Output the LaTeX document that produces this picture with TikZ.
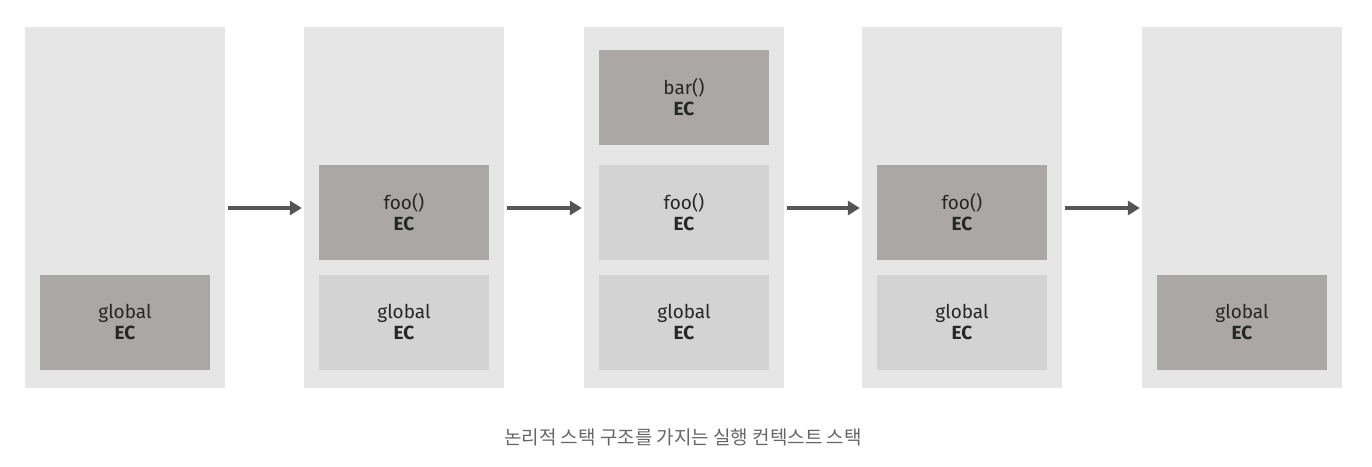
\documentclass[tikz,border=0pt]{standalone}
\usepackage{fontspec}
\setmainfont{Fira Sans}
\newfontfamily\cjk{Noto Sans CJK KR}
\definecolor{bgc}{HTML}{E6E6E6}
\definecolor{dk}{HTML}{ABA7A7}
\definecolor{lt}{HTML}{D3D3D3}
\definecolor{arr}{HTML}{555555}
\usetikzlibrary{arrows.meta}
\begin{document}
\begin{tikzpicture}[x=1pt,y=-1pt,
  col/.style={fill=bgc,draw=none,minimum width=200pt,minimum height=361pt,inner sep=0},
  ec/.style={draw=none,minimum width=170pt,minimum height=95pt,inner sep=0,align=center,font=\fontsize{19}{21}\selectfont,text=black!85},
  dkbox/.style={ec,fill=dk}, ltbox/.style={ec,fill=lt},
  flow/.style={draw=arr,line width=3.5pt,-{Triangle[length=12pt,width=14pt]}}]
\useasboundingbox (0,0) rectangle (1372,466);
\foreach \i/\x in {1/125,2/404,3/684,4/962,5/1242}{
  \node[col] (c\i) at (\x,207.5) {};
}
\node[dkbox] (g1) at (125,322.5) {global\\\textbf{EC}};
\node[ltbox] (g2) at (404,322.5) {global\\\textbf{EC}};
\node[dkbox] (f2) at (404,212.5) {foo()\\\textbf{EC}};
\node[ltbox] (g3) at (684,322.5) {global\\\textbf{EC}};
\node[ltbox] (f3) at (684,212.5) {foo()\\\textbf{EC}};
\node[dkbox] (b3) at (684,97.5) {bar()\\\textbf{EC}};
\node[ltbox] (g4) at (962,322.5) {global\\\textbf{EC}};
\node[dkbox] (f4) at (962,212.5) {foo()\\\textbf{EC}};
\node[dkbox] (g5) at (1242,322.5) {global\\\textbf{EC}};
\foreach \a/\b in {1/2,2/3,3/4,4/5}{
  \draw[flow] ([xshift=3pt,yshift=-0.5pt]c\a.east) -- ([xshift=-2pt,yshift=-0.5pt]c\b.west);
}
\node[font=\cjk\fontsize{19}{21}\selectfont,text=black!60] (cap) at (683,437) {논리적 스택 구조를 가지는 실행 컨텍스트 스택};
\end{tikzpicture}
\end{document}
